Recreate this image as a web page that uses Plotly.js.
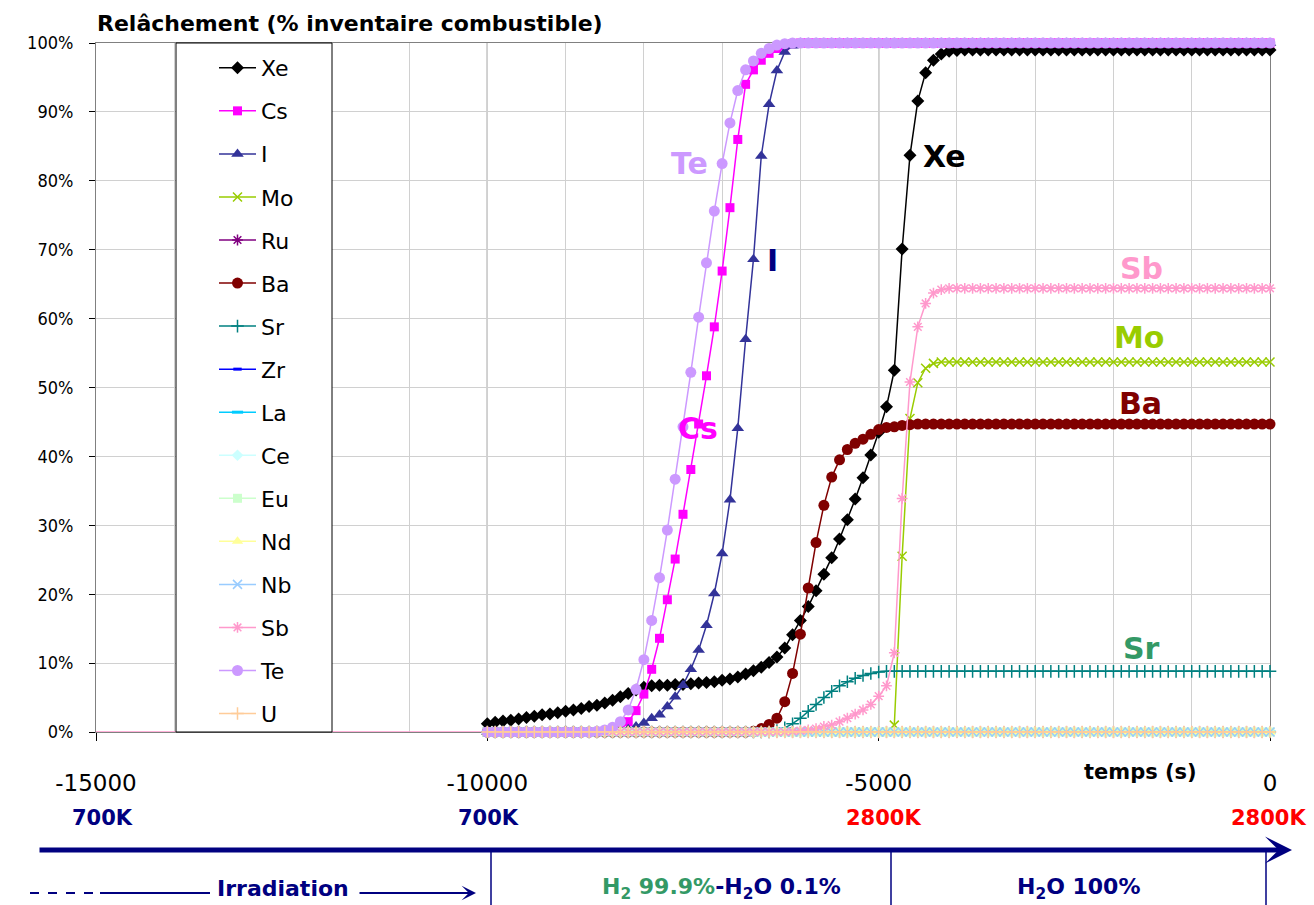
<!DOCTYPE html>
<html>
<head>
<meta charset="utf-8">
<script src="https://cdn.plot.ly/plotly-3.0.1.min.js"></script>
<style>html,body{margin:0;padding:0;background:#fff;}#chart{width:1314px;height:905px;}</style>
</head>
<body>
<div id="chart"></div>
<script>
// ---------- DATA ----------
const time = [
-10000,-9900,-9800,-9700,-9600,-9500,-9400,-9300,-9200,-9100,
-9000,-8900,-8800,-8700,-8600,-8500,-8400,-8300,-8200,-8100,
-8000,-7900,-7800,-7700,-7600,-7500,-7400,-7300,-7200,-7100,
-7000,-6900,-6800,-6700,-6600,-6500,-6400,-6300,-6200,-6100,
-6000,-5900,-5800,-5700,-5600,-5500,-5400,-5300,-5200,-5100,
-5000,-4900,-4800,-4700,-4600,-4500,-4400,-4300,-4200,-4100,
-4000,-3900,-3800,-3700,-3600,-3500,-3400,-3300,-3200,-3100,
-3000,-2900,-2800,-2700,-2600,-2500,-2400,-2300,-2200,-2100,
-2000,-1900,-1800,-1700,-1600,-1500,-1400,-1300,-1200,-1100,
-1000,-900,-800,-700,-600,-500,-400,-300,-200,-100,
0];
const preTime = [-15000, -10000];
const preValue = [0, 0];

const Xe = [
1.2,1.4,1.6,1.7,1.9,2.1,2.3,2.5,2.6,2.8,
3.0,3.2,3.4,3.7,3.9,4.2,4.6,5.1,5.6,6.1,
6.5,6.7,6.8,6.8,6.9,6.9,7.0,7.1,7.2,7.3,
7.5,7.7,8.0,8.4,8.9,9.4,10.1,10.9,12.2,14.1,
16.2,18.2,20.5,22.9,25.3,28.0,30.8,33.8,36.9,40.2,
43.5,47.2,52.5,70.1,83.7,91.6,95.7,97.5,98.4,98.8,
98.9,99,99,99,99,99,99,99,99,99,
99,99,99,99,99,99,99,99,99,99,
99,99,99,99,99,99,99,99,99,99,
99,99,99,99,99,99,99,99,99,99,
99];
const Cs = [
0,0,0,0,0,0,0,0,0,0,
0,0,0,0,0,0.1,0.2,0.6,1.5,3.1,
5.5,9.1,13.6,19.2,25.1,31.6,38.1,44.7,51.7,58.8,
66.9,76.1,86.0,94.0,96.1,97.5,98.5,99.2,99.6,99.9,
100,100,100,100,100,100,100,100,100,100,
100,100,100,100,100,100,100,100,100,100,
100,100,100,100,100,100,100,100,100,100,
100,100,100,100,100,100,100,100,100,100,
100,100,100,100,100,100,100,100,100,100,
100,100,100,100,100,100,100,100,100,100,
100];
const I = [
0,0,0,0,0,0,0,0,0,0,
0,0,0,0,0,0,0,0.1,0.4,0.8,
1.3,2.0,2.5,3.7,5.1,6.8,9.1,11.9,15.5,20.1,
25.9,33.7,44.1,57.0,68.6,83.6,91.1,96.0,98.7,99.6,
100,100,100,100,100,100,100,100,100,100,
100,100,100,100,100,100,100,100,100,100,
100,100,100,100,100,100,100,100,100,100,
100,100,100,100,100,100,100,100,100,100,
100,100,100,100,100,100,100,100,100,100,
100,100,100,100,100,100,100,100,100,100,
100];
const Mo = [
0,0,0,0,0,0,0,0,0,0,
0,0,0,0,0,0,0,0,0,0,
0,0,0,0,0,0,0,0,0,0,
0,0,0,0,0,0,0,0,0,0,
0,0,0,0,0,0,0,0,0,0,
0,0,1.0,25.5,45.5,50.7,52.8,53.5,53.7,53.7,
53.7,53.7,53.7,53.7,53.7,53.7,53.7,53.7,53.7,53.7,
53.7,53.7,53.7,53.7,53.7,53.7,53.7,53.7,53.7,53.7,
53.7,53.7,53.7,53.7,53.7,53.7,53.7,53.7,53.7,53.7,
53.7,53.7,53.7,53.7,53.7,53.7,53.7,53.7,53.7,53.7,
53.7];
const Ru = [
0,0,0,0,0,0,0,0,0,0, 0,0,0,0,0,0,0,0,0,0, 0,0,0,0,0,0,0,0,0,0, 0,0,0,0,0,0,0,0,0,0,
0,0,0,0,0,0,0,0,0,0, 0,0,0,0,0,0,0,0,0,0, 0,0,0,0,0,0,0,0,0,0, 0,0,0,0,0,0,0,0,0,0,
0,0,0,0,0,0,0,0,0,0, 0,0,0,0,0,0,0,0,0,0, 0];
const Ba = [
0,0,0,0,0,0,0,0,0,0,
0,0,0,0,0,0,0,0,0,0,
0,0,0,0,0,0,0,0,0,0,
0,0,0,0,0.1,0.5,1.1,2.0,4.4,8.5,
14.2,20.9,27.5,32.9,37.0,39.5,41.0,41.9,42.5,43.2,
43.9,44.2,44.3,44.5,44.6,44.7,44.7,44.7,44.7,44.7,
44.7,44.7,44.7,44.7,44.7,44.7,44.7,44.7,44.7,44.7,
44.7,44.7,44.7,44.7,44.7,44.7,44.7,44.7,44.7,44.7,
44.7,44.7,44.7,44.7,44.7,44.7,44.7,44.7,44.7,44.7,
44.7,44.7,44.7,44.7,44.7,44.7,44.7,44.7,44.7,44.7,
44.7];
const Sr = [
0,0,0,0,0,0,0,0,0,0,
0,0,0,0,0,0,0,0,0,0,
0,0,0,0,0,0,0,0,0,0,
0,0,0,0,0,0,0,0.2,0.6,1.2,
2.0,3.0,4.0,5.0,5.9,6.7,7.3,7.8,8.2,8.5,
8.7,8.8,8.8,8.8,8.8,8.8,8.8,8.8,8.8,8.8,
8.8,8.8,8.8,8.8,8.8,8.8,8.8,8.8,8.8,8.8,
8.8,8.8,8.8,8.8,8.8,8.8,8.8,8.8,8.8,8.8,
8.8,8.8,8.8,8.8,8.8,8.8,8.8,8.8,8.8,8.8,
8.8,8.8,8.8,8.8,8.8,8.8,8.8,8.8,8.8,8.8,
8.8];
const Zr = [
0,0,0,0,0,0,0,0,0,0, 0,0,0,0,0,0,0,0,0,0, 0,0,0,0,0,0,0,0,0,0, 0,0,0,0,0,0,0,0,0,0,
0,0,0,0,0,0,0,0,0,0, 0,0,0,0,0,0,0,0,0,0, 0,0,0,0,0,0,0,0,0,0, 0,0,0,0,0,0,0,0,0,0,
0,0,0,0,0,0,0,0,0,0, 0,0,0,0,0,0,0,0,0,0, 0];
const La = [
0,0,0,0,0,0,0,0,0,0, 0,0,0,0,0,0,0,0,0,0, 0,0,0,0,0,0,0,0,0,0, 0,0,0,0,0,0,0,0,0,0,
0,0,0,0,0,0,0,0,0,0, 0,0,0,0,0,0,0,0,0,0, 0,0,0,0,0,0,0,0,0,0, 0,0,0,0,0,0,0,0,0,0,
0,0,0,0,0,0,0,0,0,0, 0,0,0,0,0,0,0,0,0,0, 0];
const Ce = [
0,0,0,0,0,0,0,0,0,0, 0,0,0,0,0,0,0,0,0,0, 0,0,0,0,0,0,0,0,0,0, 0,0,0,0,0,0,0,0,0,0,
0,0,0,0,0,0,0,0,0,0, 0,0,0,0,0,0,0,0,0,0, 0,0,0,0,0,0,0,0,0,0, 0,0,0,0,0,0,0,0,0,0,
0,0,0,0,0,0,0,0,0,0, 0,0,0,0,0,0,0,0,0,0, 0];
const Eu = [
0,0,0,0,0,0,0,0,0,0, 0,0,0,0,0,0,0,0,0,0, 0,0,0,0,0,0,0,0,0,0, 0,0,0,0,0,0,0,0,0,0,
0,0,0,0,0,0,0,0,0,0, 0,0,0,0,0,0,0,0,0,0, 0,0,0,0,0,0,0,0,0,0, 0,0,0,0,0,0,0,0,0,0,
0,0,0,0,0,0,0,0,0,0, 0,0,0,0,0,0,0,0,0,0, 0];
const Nd = [
0,0,0,0,0,0,0,0,0,0, 0,0,0,0,0,0,0,0,0,0, 0,0,0,0,0,0,0,0,0,0, 0,0,0,0,0,0,0,0,0,0,
0,0,0,0,0,0,0,0,0,0, 0,0,0,0,0,0,0,0,0,0, 0,0,0,0,0,0,0,0,0,0, 0,0,0,0,0,0,0,0,0,0,
0,0,0,0,0,0,0,0,0,0, 0,0,0,0,0,0,0,0,0,0, 0];
const Nb = [
0,0,0,0,0,0,0,0,0,0, 0,0,0,0,0,0,0,0,0,0, 0,0,0,0,0,0,0,0,0,0, 0,0,0,0,0,0,0,0,0,0,
0,0,0,0,0,0,0,0,0,0, 0,0,0,0,0,0,0,0,0,0, 0,0,0,0,0,0,0,0,0,0, 0,0,0,0,0,0,0,0,0,0,
0,0,0,0,0,0,0,0,0,0, 0,0,0,0,0,0,0,0,0,0, 0];
const Sb = [
0,0,0,0,0,0,0,0,0,0,
0,0,0,0,0,0,0,0,0,0,
0,0,0,0,0,0,0,0,0,0,
0,0,0,0,0,0,0,0,0,0.1,
0.2,0.3,0.5,0.8,1.0,1.5,2.0,2.6,3.2,4.0,
5.2,6.7,11.5,33.9,50.8,58.8,62.2,63.7,64.2,64.4,
64.4,64.4,64.4,64.4,64.4,64.4,64.4,64.4,64.4,64.4,
64.4,64.4,64.4,64.4,64.4,64.4,64.4,64.4,64.4,64.4,
64.4,64.4,64.4,64.4,64.4,64.4,64.4,64.4,64.4,64.4,
64.4,64.4,64.4,64.4,64.4,64.4,64.4,64.4,64.4,64.4,
64.4];
const Te = [
0,0,0,0,0,0,0,0,0,0,
0,0,0,0,0.1,0.3,0.7,1.5,3.2,6.2,
10.5,16.2,22.4,29.3,36.7,44.3,52.2,60.2,68.1,75.6,
82.5,88.4,93.1,96.1,97.4,98.5,99.2,99.7,99.9,100,
100,100,100,100,100,100,100,100,100,100,
100,100,100,100,100,100,100,100,100,100,
100,100,100,100,100,100,100,100,100,100,
100,100,100,100,100,100,100,100,100,100,
100,100,100,100,100,100,100,100,100,100,
100,100,100,100,100,100,100,100,100,100,
100];
const U = [
0,0,0,0,0,0,0,0,0,0, 0,0,0,0,0,0,0,0,0,0, 0,0,0,0,0,0,0,0,0,0, 0,0,0,0,0,0,0,0,0,0,
0,0,0,0,0,0,0,0,0,0, 0,0,0,0,0,0,0,0,0,0, 0,0,0,0,0,0,0,0,0,0, 0,0,0,0,0,0,0,0,0,0,
0,0,0,0,0,0,0,0,0,0, 0,0,0,0,0,0,0,0,0,0, 0];

const seriesNames = ['Xe','Cs','I','Mo','Ru','Ba','Sr','Zr','La','Ce','Eu','Nd','Nb','Sb','Te','U'];
const seriesValues = [Xe, Cs, I, Mo, Ru, Ba, Sr, Zr, La, Ce, Eu, Nd, Nb, Sb, Te, U];
const xTickVals = [-15000, -10000, -5000, 0];
const xTickText = ['-15000', '-10000', '-5000', '0'];
const yTickVals = [0,10,20,30,40,50,60,70,80,90,100];
const yTickText = ['0%','10%','20%','30%','40%','50%','60%','70%','80%','90%','100%'];

// ---------- STYLE ----------
const styles = {
  Xe: {color:'#000000', symbol:'diamond', size:10},
  Cs: {color:'#FF00FF', symbol:'square', size:9},
  I:  {color:'#333399', symbol:'triangle-up', size:11},
  Mo: {color:'#99CC00', symbol:'x-thin-open', size:9},
  Ru: {color:'#800080', symbol:'asterisk-open', size:9},
  Ba: {color:'#800000', symbol:'circle', size:11},
  Sr: {color:'#008080', symbol:'cross-thin-open', size:9},
  Zr: {color:'#0000FF', symbol:'line-ew-open', size:6},
  La: {color:'#00CCFF', symbol:'line-ew-open', size:8},
  Ce: {color:'#CCFFFF', symbol:'diamond', size:9},
  Eu: {color:'#CCFFCC', symbol:'square', size:9},
  Nd: {color:'#FFFF99', symbol:'triangle-up', size:10},
  Nb: {color:'#99CCFF', symbol:'x-thin-open', size:9},
  Sb: {color:'#FF99CC', symbol:'asterisk-open', size:9},
  Te: {color:'#CC99FF', symbol:'circle', size:11},
  U:  {color:'#FFCC99', symbol:'cross-thin-open', size:9}
};

const FONT = 'DejaVu Sans, Verdana, sans-serif';
const NARROW = 'Liberation Sans Narrow, DejaVu Sans Condensed, Liberation Sans, sans-serif';
const PL = 96, PR = 1270, PT = 43, PB = 732;
const fx = px => (px - PL) / (PR - PL);
const fy = py => (PB - py) / (PB - PT);

const traces = [{
  x: preTime, y: preValue, mode: 'lines', showlegend: false, hoverinfo: 'skip',
  line: {color: '#FF99CC', width: 1.5}, cliponaxis: false
}];
seriesNames.forEach((n, k) => {
  const s = styles[n];
  const open = s.symbol.indexOf('open') >= 0;
  traces.push({
    x: time, y: seriesValues[k], name: n, legendgroup: n,
    mode: 'lines+markers', cliponaxis: false,
    line: {color: s.color, width: 1.5},
    marker: {symbol: s.symbol, size: s.size, color: s.color,
             line: {color: s.color, width: open ? (n === 'Zr' || n === 'La' ? 3 : 1.5) : 0}}
  });
});

const navy = '#000080';
const ann = [];
function label(text, px, py, color, size, bold, extra) {
  ann.push(Object.assign({
    text: bold ? '<b>' + text + '</b>' : text, xref: 'paper', yref: 'paper',
    x: fx(px), y: fy(py), xanchor: 'center', yanchor: 'middle', showarrow: false,
    font: {family: FONT, size: size, color: color}
  }, extra || {}));
}
// series labels
label('Te', 690, 163, '#CC99FF', 30, true);
label('Cs', 698, 428, '#FF00FF', 30, true);
label('I', 773, 260, '#000080', 30, true);
label('Xe', 945, 157, '#000000', 30, true);
label('Sb', 1141, 268, '#FF99CC', 30, true);
label('Mo', 1139, 337, '#99CC00', 30, true);
label('Ba', 1140, 403, '#800000', 30, true);
label('Sr', 1141, 648, '#339966', 30, true);
// axis caption
label('temps (s)', 1140, 772, '#000000', 21, true);
// temperatures
label('700K', 102, 818, navy, 21, true);
label('700K', 488, 818, navy, 21, true);
label('2800K', 883, 818, '#FF0000', 21, true);
label('2800K', 1268, 818, '#FF0000', 21, true);
// phases
label('Irradiation', 283, 888, navy, 22, true);
label('<span style="color:#339966">H<sub>2</sub> 99.9%</span>-H<sub>2</sub>O 0.1%', 721, 888, navy, 22, true);
label('H<sub>2</sub>O 100%', 1078, 888, navy, 22, true);
// big timeline arrow
ann.push({xref:'paper', yref:'paper', x: fx(1292), y: fy(850), ax: -(1292-38), ay: 0,
  axref:'pixel', ayref:'pixel', showarrow: true, text: '', arrowhead: 3, arrowsize: 0.9,
  arrowwidth: 5, arrowcolor: navy});
// irradiation small arrow
ann.push({xref:'paper', yref:'paper', x: fx(476), y: fy(893), ax: -(476-358), ay: 0,
  axref:'pixel', ayref:'pixel', showarrow: true, text: '', arrowhead: 3, arrowsize: 1.2,
  arrowwidth: 2, arrowcolor: navy});

const shapes = [
  // legend box
  {type:'rect', xref:'paper', yref:'paper', x0: fx(176), x1: fx(332), y0: fy(732), y1: fy(43),
   fillcolor:'#FFFFFF', line:{color:'#000000', width:1}, layer:'above'},
  // dark reference lines
  {type:'line', xref:'x', yref:'paper', x0:-10000, x1:-10000, y0:0, y1:1, line:{color:'#000000', width:1}, layer:'below'},
  {type:'line', xref:'x', yref:'paper', x0:-5000, x1:-5000, y0:0, y1:1, line:{color:'#000000', width:1}, layer:'below'},
  // phase separators
  {type:'line', xref:'paper', yref:'paper', x0: fx(491), x1: fx(491), y0: fy(852), y1: fy(905), line:{color:navy, width:1.5}},
  {type:'line', xref:'paper', yref:'paper', x0: fx(891), x1: fx(891), y0: fy(852), y1: fy(905), line:{color:navy, width:1.5}},
  {type:'line', xref:'paper', yref:'paper', x0: fx(1266), x1: fx(1266), y0: fy(852), y1: fy(905), line:{color:navy, width:1.5}},
  // irradiation lines
  {type:'line', xref:'paper', yref:'paper', x0: fx(30), x1: fx(100), y0: fy(893), y1: fy(893), line:{color:navy, width:2, dash:'dash'}},
  {type:'line', xref:'paper', yref:'paper', x0: fx(100), x1: fx(210), y0: fy(893), y1: fy(893), line:{color:navy, width:2}}
];

const layout = {
  width: 1314, height: 905,
  margin: {l: PL, r: 1314 - PR, t: PT, b: 905 - PB, pad: 0},
  paper_bgcolor: '#FFFFFF', plot_bgcolor: '#FFFFFF',
  font: {family: FONT, color: '#000000'},
  title: {text: '<b>Relâchement (% inventaire combustible)</b>', x: 97/1314, xanchor: 'left',
          y: 1 - 23/905, yanchor: 'middle', font: {family: FONT, size: 22, color: '#000000'}},
  showlegend: true,
  legend: {x: fx(214), y: 1 - 4/689, xanchor: 'left', yanchor: 'top', bgcolor: 'rgba(0,0,0,0)',
           borderwidth: 0, font: {family: FONT, size: 22, color: '#000000'},
           traceorder: 'grouped', tracegroupgap: 11.45, itemwidth: 37, maxheight: 2000},
  xaxis: {range: [-15000, 0], tickvals: xTickVals, ticktext: xTickText, ticks: 'outside', ticklen: 8,
          tickcolor: '#000000', ticklabelstandoff: 22, tickfont: {family: FONT, size: 23, color: '#000000'},
          showgrid: false, zeroline: false, showline: true, linecolor: '#808080', linewidth: 1, mirror: true,
          layer: 'below traces',
          minor: {dtick: 1000, showgrid: true, gridcolor: '#D0D0D0', gridwidth: 1, ticks: ''}},
  yaxis: {range: [0, 100], tickvals: yTickVals, ticktext: yTickText, ticks: 'outside', ticklen: 6,
          tickcolor: '#000000', tickfont: {family: NARROW, size: 18, color: '#000000'},
          ticklabelstandoff: 12, showgrid: true, gridcolor: '#D0D0D0', gridwidth: 1, zeroline: false,
          showline: true, linecolor: '#808080', linewidth: 1, mirror: true, layer: 'below traces'},
  annotations: ann,
  shapes: shapes
};

Plotly.newPlot('chart', traces, layout, {displayModeBar: false, staticPlot: true});
</script>
</body>
</html>
